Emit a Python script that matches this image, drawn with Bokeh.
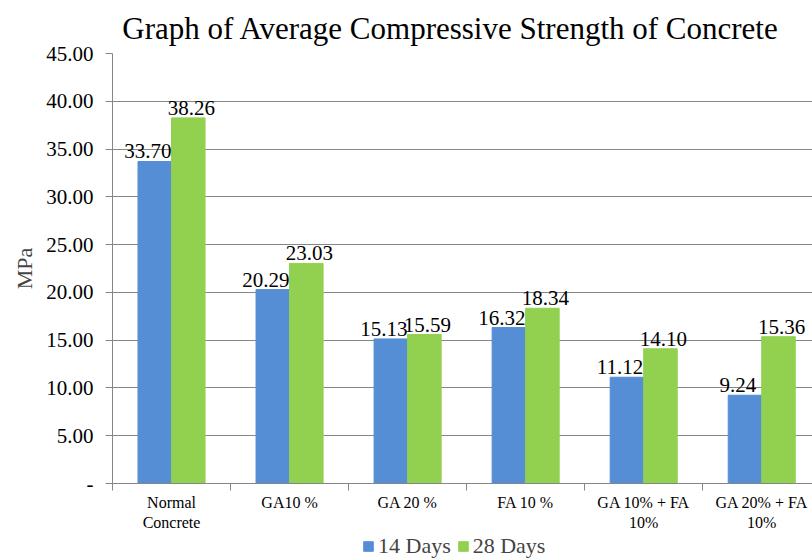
from bokeh.plotting import figure
from bokeh.models import (Range1d, FixedTicker, ColumnDataSource, Legend, LegendItem, Title, LabelSet)
from bokeh.layouts import column
from bokeh.core.properties import value
from bokeh.embed import file_html
from bokeh.resources import INLINE

categories = ["Normal\nConcrete", "GA10 %", "GA 20 %", "FA 10 %", "GA 10% + FA\n10%", "GA 20% + FA\n10%"]
days14 = [33.70, 20.29, 15.13, 16.32, 11.12, 9.24]
days28 = [38.26, 23.03, 15.59, 18.34, 14.10, 15.36]
series_names = ["14 Days", "28 Days"]
y_ticks = [0, 5, 10, 15, 20, 25, 30, 35, 40, 45]

BLUE = "#558ED5"
GREEN = "#92D050"
FONT = "Liberation Serif"

centers = [i + 0.5 for i in range(len(categories))]
bw = 0.284
src = ColumnDataSource(dict(
    x14=[c - bw / 2 for c in centers],
    x28=[c + bw / 2 for c in centers],
    d14=days14, d28=days28,
    l14=["%.2f" % v for v in days14],
    l28=["%.2f" % v for v in days28],
))

p = figure(width=812, height=533, output_backend="svg", toolbar_location=None,
           x_range=Range1d(0, 5.93), y_range=Range1d(0, 45),
           min_border_left=112, min_border_right=0, min_border_top=52, min_border_bottom=50)
p.outline_line_color = None
p.background_fill_color = "white"
p.border_fill_color = "white"

p.vbar(x="x14", top="d14", width=bw, source=src, fill_color=BLUE, line_color=BLUE)
p.vbar(x="x28", top="d28", width=bw, source=src, fill_color=GREEN, line_color=GREEN)

for xcol, ycol, lcol, xo in [("x14", "d14", "l14", -7), ("x28", "d28", "l28", 3)]:
    lab = LabelSet(x=xcol, y=ycol, text=lcol, source=src, text_align="center",
                   text_baseline="bottom", y_offset=3, x_offset=xo, text_font=value(FONT),
                   text_font_size=value("21px"), text_color="black")
    p.add_layout(lab)

# y axis
p.yaxis.ticker = FixedTicker(ticks=y_ticks)
p.yaxis.major_label_overrides = {t: ("-" if t == 0 else "%.2f" % t) for t in y_ticks}
p.yaxis.major_label_text_font = FONT
p.yaxis.major_label_text_font_size = "21px"
p.yaxis.major_label_text_color = "black"
p.yaxis.major_tick_out = 7
p.yaxis.major_tick_in = 0
p.yaxis.major_label_standoff = 12
p.yaxis.minor_tick_line_color = None
p.yaxis.axis_line_color = "#868686"
p.yaxis.major_tick_line_color = "#868686"
p.yaxis.axis_label = "MPa"
p.yaxis.axis_label_text_font = FONT
p.yaxis.axis_label_text_font_size = "22px"
p.yaxis.axis_label_text_font_style = "normal"
p.yaxis.axis_label_standoff = 6

# x axis
p.xaxis.ticker = FixedTicker(ticks=centers, minor_ticks=list(range(len(categories) + 1)))
p.xaxis.major_label_overrides = {c: lab for c, lab in zip(centers, categories)}
p.xaxis.major_label_text_font = FONT
p.xaxis.major_label_text_font_size = "16px"
p.xaxis.major_label_text_color = "black"
p.xaxis.major_tick_line_color = None
p.xaxis.minor_tick_out = 7
p.xaxis.minor_tick_in = 0
p.xaxis.minor_tick_line_color = "#868686"
p.xaxis.axis_line_color = "#868686"
p.xaxis.major_label_standoff = 3

p.xgrid.grid_line_color = None
p.ygrid.ticker = FixedTicker(ticks=y_ticks)
p.ygrid.grid_line_color = "#868686"
p.ygrid.grid_line_width = 1

title = Title(text="Graph of Average  Compressive  Strength  of Concrete", align="center",
              text_font=FONT, text_font_size="31px", text_font_style="normal",
              text_color="black", offset=-10, standoff=16)
p.add_layout(title, "above")

# legend strip
lg = figure(width=812, height=26, output_backend="svg", toolbar_location=None,
            x_range=Range1d(0, 1), y_range=Range1d(0, 1),
            min_border_left=0, min_border_right=0, min_border_top=0, min_border_bottom=0)
lg.axis.visible = False
lg.grid.grid_line_color = None
lg.outline_line_color = None
dummy = ColumnDataSource(dict(x=[5.0], top=[0.0]))
g14 = lg.vbar(x="x", top="top", width=0.1, source=dummy, fill_color=BLUE, line_color=BLUE)
g28 = lg.vbar(x="x", top="top", width=0.1, source=dummy, fill_color=GREEN, line_color=GREEN)
legend = Legend(items=[LegendItem(label=series_names[0], renderers=[g14]),
                       LegendItem(label=series_names[1], renderers=[g28])],
                orientation="horizontal", location=(250, 0),
                label_text_font=FONT, label_text_font_size="22px",
                glyph_width=12, glyph_height=12, spacing=6, label_standoff=4,
                border_line_color=None, background_fill_alpha=0,
                padding=0, margin=0)
lg.add_layout(legend, "center")

layout = column(p, lg, spacing=0)
open("out.html", "w").write(file_html(layout, INLINE))
